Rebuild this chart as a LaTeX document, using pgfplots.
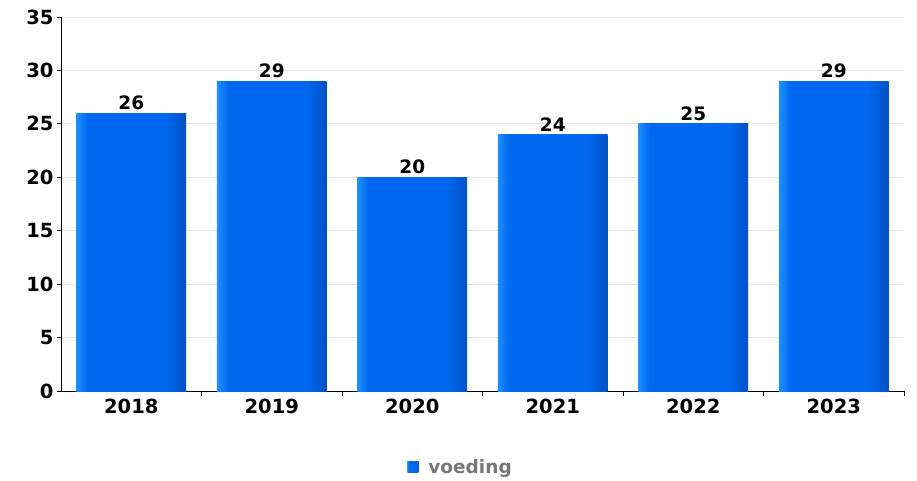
\documentclass[border=0pt]{standalone}
\usepackage{fontspec}
\setmainfont{DejaVu Sans}
\usepackage{pgfplots}
\pgfplotsset{compat=1.18}
\definecolor{barmid}{HTML}{0068EE}
\definecolor{barlight}{HTML}{1E90FF}
\definecolor{bardark}{HTML}{004FC4}
\definecolor{gridgray}{HTML}{E4E4E4}
\definecolor{leggray}{HTML}{777777}
\pgfdeclarehorizontalshading{barshade}{100bp}{color(0bp)=(barlight); color(25bp)=(barlight); color(30bp)=(barmid); color(66bp)=(barmid); color(75bp)=(bardark); color(100bp)=(bardark)}
\pgfplotsset{mybar/.style={shading=barshade, draw=none, bar shift=0pt,
  nodes near coords,
  nodes near coords style={font=\bfseries\fontsize{18.5}{20}\selectfont, black, yshift=0pt}}}
\begin{document}
\begin{tikzpicture}
\useasboundingbox (0,0) rectangle (917pt,480pt);
\begin{axis}[at={(61pt,89pt)}, anchor=south west, scale only axis,
  width=843pt, height=374pt,
  xmin=-0.5, xmax=5.5, ymin=0, ymax=35,
  ybar, bar width=0.78,
  ytick={0,5,...,35},
  xtick={0,1,2,3,4,5},
  xticklabels={2018,2019,2020,2021,2022,2023},
  minor xtick={0.5,1.5,2.5,3.5,4.5,5.5},
  major x tick style={draw=none},
  tick align=outside, major tick length=4pt, minor tick length=5pt,
  tick style={black, line width=0.8pt},
  ymajorgrids, grid style={gridgray, line width=0.8pt},
  axis x line*=bottom, axis y line*=left,
  axis line style={-, line width=0.9pt, black},
  /pgf/number format/assume math mode=true,
  ticklabel style={font=\bfseries\fontsize{19.5}{21}\selectfont},
  legend style={at={(0.474,-0.203)}, anchor=center, draw=none,
    font=\bfseries\fontsize{18.5}{20}\selectfont, text=leggray},
  legend image code/.code={\fill[barmid] (0pt,-5.5pt) rectangle (11pt,5.5pt);},
]
\addplot[mybar] coordinates {(0,26)};
\addlegendentry{\hspace{8pt}voeding}
\addplot[mybar, forget plot] coordinates {(1,29)};
\addplot[mybar, forget plot] coordinates {(2,20)};
\addplot[mybar, forget plot] coordinates {(3,24)};
\addplot[mybar, forget plot] coordinates {(4,25)};
\addplot[mybar, forget plot] coordinates {(5,29)};
\end{axis}
\end{tikzpicture}
\end{document}
